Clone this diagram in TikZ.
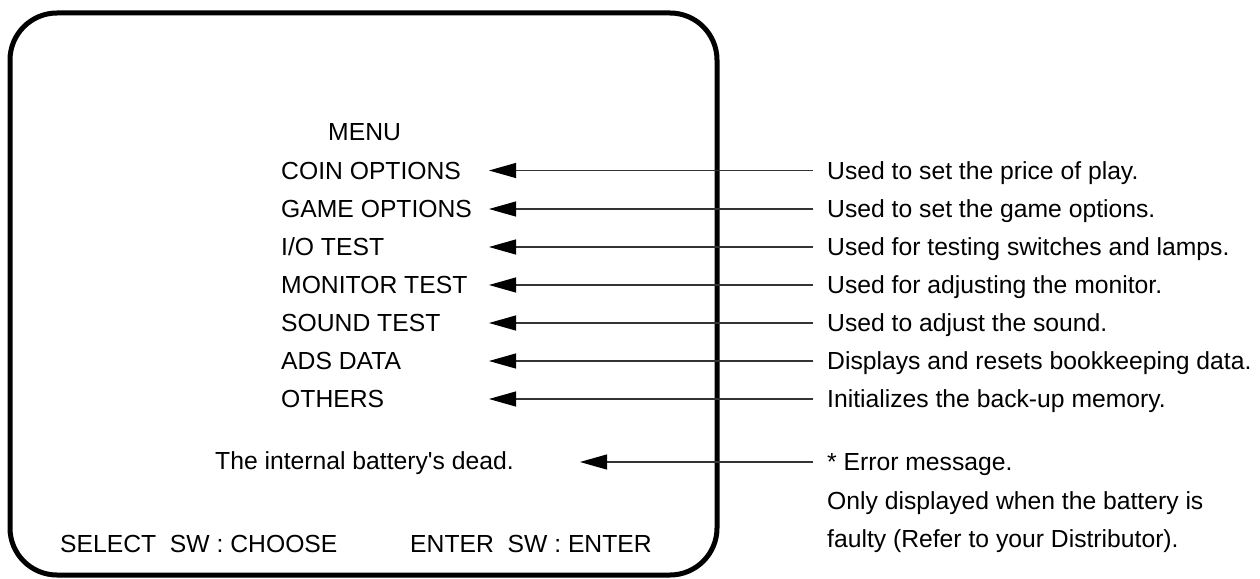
\documentclass[tikz,border=0pt]{standalone}
\usepackage{fontspec}
\setmainfont{Liberation Sans}[Ligatures=TeXOff]
\usetikzlibrary{arrows.meta}
\begin{document}
\begin{tikzpicture}[x=1pt,y=-1pt,
  txt/.style={anchor=west,inner sep=0pt,text height=17.7pt,text depth=0pt,font=\fontsize{24.7}{30}\selectfont},
  conn/.style={draw=black!80,line width=1.2pt,-{Triangle[length=27pt,width=15pt,color=black]}},
  screen/.style={draw=black,line width=5pt,rounded corners=47pt}]
\useasboundingbox (0,0) rectangle (1260,578);
\draw[screen] (10,13) rectangle (717,575);
\coordinate (tip) at (489,0);
\coordinate (tipb) at (580,0);
% menu
\node[txt] (menu) at (328,132) {MENU};
\node[txt] (i1) at (281,170.5) {COIN OPTIONS};
\node[txt] (i2) at (281,209) {GAME OPTIONS};
\node[txt] (i3) at (281,247) {I/O TEST};
\node[txt] (i4) at (281,285) {MONITOR TEST};
\node[txt] (i5) at (281,323) {SOUND TEST};
\node[txt] (i6) at (281,361) {ADS DATA};
\node[txt] (i7) at (281,399) {OTHERS};
\node[txt] (bat) at (215,461) {The internal battery's dead.};
\node[txt] (sel) at (60,544) {SELECT\ \ SW : CHOOSE};
\node[txt] (ent) at (410,544) {ENTER\ \ SW : ENTER};
% descriptions
\node[txt] (d1) at (827,170.5) {Used to set the price of play.};
\node[txt] (d2) at (827,209) {Used to set the game options.};
\node[txt] (d3) at (827,247) {Used for testing switches and lamps.};
\node[txt] (d4) at (827,285) {Used for adjusting the monitor.};
\node[txt] (d5) at (827,323) {Used to adjust the sound.};
\node[txt] (d6) at (827,361) {Displays and resets bookkeeping data.};
\node[txt] (d7) at (827,399) {Initializes the back-up memory.};
\node[txt] (e1) at (827,462) {* Error message.};
\node[txt] (e2) at (827,501) {Only displayed when the battery is};
\node[txt] (e3) at (827,539) {faulty (Refer to your Distributor).};
% connectors
\foreach \k in {1,...,7}{
  \draw[conn] ([xshift=-14pt]d\k.west) -- (d\k.west -| tip);
}
\draw[conn] ([xshift=-14pt]e1.west) -- (e1.west -| tipb);
\end{tikzpicture}
\end{document}
